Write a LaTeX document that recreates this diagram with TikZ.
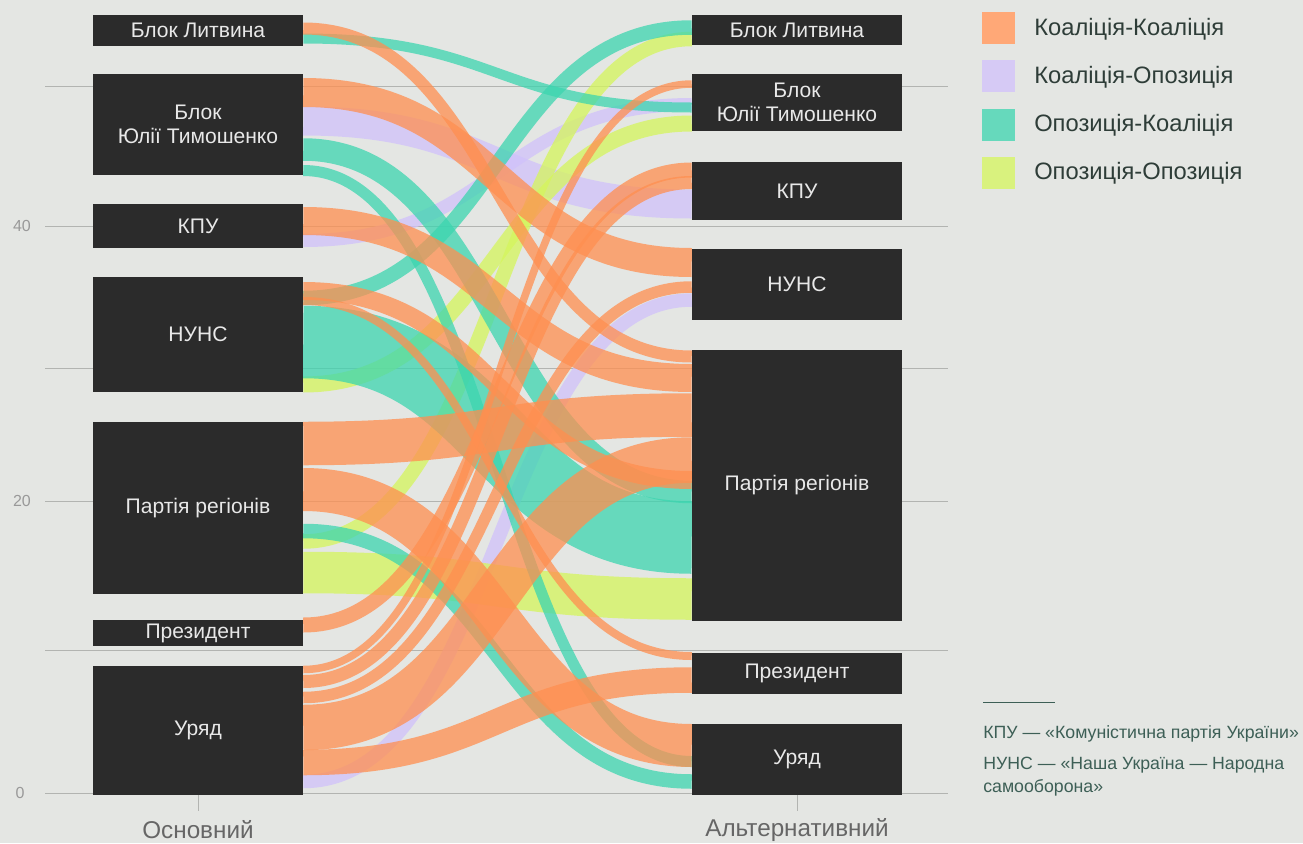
\documentclass[tikz,border=0pt]{standalone}
\usepackage{fontspec}
\setmainfont{Liberation Sans}
\pgfdeclarelayer{bgl}
\pgfdeclarelayer{grid}
\pgfdeclarelayer{flows}
\pgfsetlayers{bgl,grid,flows,main}
\definecolor{bgc}{HTML}{E4E6E3}
\definecolor{boxc}{HTML}{2B2B2B}
\definecolor{boxt}{HTML}{E8E8E8}
\definecolor{gridc}{HTML}{B2B4B1}
\definecolor{cOr}{RGB}{255,143,80}
\definecolor{cLv}{RGB}{208,193,251}
\definecolor{cTl}{RGB}{60,213,175}
\definecolor{cYg}{RGB}{213,246,92}
\definecolor{lOr}{HTML}{FFA877}
\definecolor{lLv}{HTML}{D6CAF5}
\definecolor{lTl}{HTML}{66D9BC}
\definecolor{lYg}{HTML}{D9F27E}
\definecolor{legt}{HTML}{2E3D38}
\definecolor{notet}{HTML}{3D5F56}
\definecolor{axt}{HTML}{666666}
\definecolor{tickt}{HTML}{999999}
\tikzset{
  fOr/.style={draw=cOr, draw opacity=0.75},
  fLv/.style={draw=cLv, draw opacity=0.75},
  fTl/.style={draw=cTl, draw opacity=0.75},
  fYg/.style={draw=cYg, draw opacity=0.75},
  nodebox/.style={fill=boxc, text=boxt, inner sep=0pt, minimum width=157.5pt, align=center,
    font=\fontsize{15.8}{18}\selectfont},
  gridline/.style={draw=gridc, line width=0.75pt},
  ticklab/.style={text=tickt, inner sep=0pt, font=\fontsize{12}{14}\selectfont},
  axlab/.style={text=axt, inner sep=0pt, font=\fontsize{18.2}{20}\selectfont},
  legtext/.style={text=legt, inner sep=0pt, anchor=west, font=\fontsize{17.8}{20}\selectfont},
  notetext/.style={text=notet, inner sep=0pt, anchor=west, align=left, font=\fontsize{13.3}{17.25}\selectfont},
}
% style, left node, right node, left top, left bottom, right top, right bottom (pixel rows at the box edges)
\newcommand\flow[7]{%
  \pgfmathsetmacro\cL{(#4+#5)/2}%
  \pgfmathsetmacro\cR{(#6+#7)/2}%
  \pgfmathsetmacro\ww{0.75*((#5-#4)+(#7-#6))/2}%
  \draw[#1, line width=\ww pt] (#2.east |- 0,\cL) .. controls (mid |- 0,\cL) and (mid |- 0,\cR) .. (#3.west |- 0,\cR);%
}
\begin{document}
\begin{tikzpicture}[x=0.75pt, y=-0.75pt]
\useasboundingbox (0,0) rectangle (1303,843);
\begin{pgfonlayer}{bgl}
  \fill[bgc] (0,0) rectangle (1303,843);
\end{pgfonlayer}
\coordinate (mid) at (497.5,0);

% nodes, left column
\node[nodebox, minimum height=23.25pt] (L1) at (198,30.5) {Блок Литвина};
\node[nodebox, minimum height=75.75pt] (L2) at (198,124.5) {Блок\\Юлії Тимошенко};
\node[nodebox, minimum height=33pt] (L3) at (198,226) {КПУ};
\node[nodebox, minimum height=86.25pt] (L4) at (198,334.5) {НУНС};
\node[nodebox, minimum height=129pt] (L5) at (198,508) {Партія регіонів};
\node[nodebox, minimum height=19.5pt] (L6) at (198,633) {Президент};
\node[nodebox, minimum height=96.75pt] (L7) at (198,730.5) {Уряд};
% nodes, right column
\node[nodebox, minimum height=22.5pt] (R1) at (797,30) {Блок Литвина};
\node[nodebox, minimum height=42.75pt] (R2) at (797,102.5) {Блок\\Юлії Тимошенко};
\node[nodebox, minimum height=43.5pt] (R3) at (797,191) {КПУ};
\node[nodebox, minimum height=53.25pt] (R4) at (797,284.5) {НУНС};
\node[nodebox, minimum height=203.25pt] (R5) at (797,485.5) {Партія регіонів};
\node[nodebox, minimum height=30.75pt] (R6) at (797,673.5) {Президент};
\node[nodebox, minimum height=53.25pt] (R7) at (797,759.5) {Уряд};

\begin{pgfonlayer}{grid}
  \foreach \gy in {86,226,368,501,650,793} \draw[gridline] (45,\gy) -- (948,\gy);
\end{pgfonlayer}
\draw[gridline] (L7.south) -- ++(0,16);
\draw[gridline] (R7.south) -- ++(0,16);
\node[ticklab] (t40) at (22,226) {40};
\node[ticklab] (t20) at (22,501) {20};
\node[ticklab] (t0) at (20,793) {0};
\node[axlab] (axL) at (198,830) {Основний};
\node[axlab] (axR) at (797,830) {Альтернативний};

\begin{pgfonlayer}{flows}
  % Коаліція-Опозиція
  \flow{fLv}{L2}{R3}{107}{135}{189}{219}
  \flow{fLv}{L3}{R2}{234}{247}{98}{111}
  \flow{fLv}{L7}{R4}{775}{788}{293}{307}
  % Опозиція-Опозиція
  \flow{fYg}{L4}{R2}{377}{392}{115}{132}
  \flow{fYg}{L5}{R1}{533}{550}{33}{45}
  \flow{fYg}{L5}{R5}{552}{593}{578}{620}
  % Опозиція-Коаліція
  \flow{fTl}{L1}{R2}{34}{43}{102}{113}
  \flow{fTl}{L2}{R5}{135}{164}{484}{500}
  \flow{fTl}{L2}{R7}{164}{177}{757}{766}
  \flow{fTl}{L4}{R1}{289}{307}{22}{33}
  \flow{fTl}{L4}{R5}{307}{377}{500}{575}
  \flow{fTl}{L5}{R7}{525}{537}{773}{790}
  % Коаліція-Коаліція
  \flow{fOr}{L1}{R5}{23}{34}{350}{363}
  \flow{fOr}{L2}{R4}{78}{107}{248}{277}
  \flow{fOr}{L3}{R5}{208}{234}{363}{393}
  \flow{fOr}{L4}{R5}{283}{299}{470}{490}
  \flow{fOr}{L4}{R6}{297}{305}{652}{660}
  \flow{fOr}{L5}{R5}{422}{465}{393}{437}
  \flow{fOr}{L5}{R7}{469}{510}{723}{768}
  \flow{fOr}{L6}{R3}{617}{633}{163}{177}
  \flow{fOr}{L7}{R2}{666}{673}{80}{88}
  \flow{fOr}{L7}{R3}{673}{690}{178}{187}
  \flow{fOr}{L7}{R4}{690}{705}{283}{291}
  \flow{fOr}{L7}{R5}{705}{750}{437}{483}
  \flow{fOr}{L7}{R6}{750}{775}{667}{693}
\end{pgfonlayer}

% legend
\fill[lOr] (982,12) rectangle (1015,44);
\fill[lLv] (982,60) rectangle (1015,92);
\fill[lTl] (982,109) rectangle (1015,141);
\fill[lYg] (982,157) rectangle (1015,189);
\node[legtext] (g1) at (1034,29) {Коаліція-Коаліція};
\node[legtext] (g2) at (1034,77) {Коаліція-Опозиція};
\node[legtext] (g3) at (1034,125) {Опозиція-Коаліція};
\node[legtext] (g4) at (1034,173) {Опозиція-Опозиція};

% note
\draw[draw=notet, line width=0.75pt] (983,702) -- (1055,702);
\node[notetext] (n1) at (983,734) {КПУ — «Комуністична партія України»};
\node[notetext] (n2) at (983,777) {НУНС — «Наша Україна — Народна\\самооборона»};
\end{tikzpicture}
\end{document}
